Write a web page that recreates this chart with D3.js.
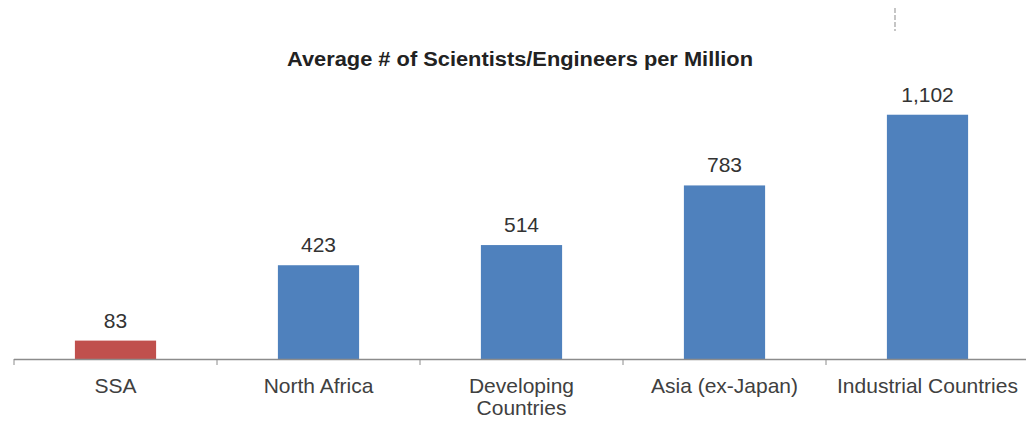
<!DOCTYPE html>
<html lang="en">
<head>
    <meta charset="UTF-8">
    <title>Average # of Scientists/Engineers per Million</title>
    <script src="https://d3js.org/d3.v7.min.js"></script>
    <style>
        html, body {
            margin: 0;
            padding: 0;
            background-color: #ffffff;
            font-family: 'Liberation Sans', Arial, sans-serif;
        }
        #chart {
            width: 1026px;
            height: 423px;
        }
    </style>
</head>
<body>
    <div id="chart"></div>

    <script>
        // data
        const categories = ['SSA', 'North Africa', 'Developing\nCountries', 'Asia (ex-Japan)', 'Industrial Countries'];
        const values = [83, 423, 514, 783, 1102];
        const barColors = ['#C0504D', '#4F81BD', '#4F81BD', '#4F81BD', '#4F81BD'];
        const chartTitle = 'Average # of Scientists/Engineers per Million';

        const width = 1026, height = 423;
        const svg = d3.select('#chart').append('svg')
            .attr('width', width).attr('height', height);

        const x = d3.scaleBand().domain(categories).range([14, 1029])
            .paddingInner(0.6).paddingOuter(0.3);
        const y = d3.scaleLinear().domain([0, 1200]).range([359, 93]);

        // title
        svg.append('text')
            .attr('x', 520).attr('y', 66)
            .attr('text-anchor', 'middle')
            .attr('textLength', 466).attr('lengthAdjust', 'spacingAndGlyphs')
            .style('font-size', '20px').style('font-weight', 'bold')
            .style('fill', '#222')
            .text(chartTitle);

        // small dashed mark top right
        svg.append('line')
            .attr('x1', 895).attr('x2', 895).attr('y1', 8).attr('y2', 31)
            .attr('stroke', '#a0a0a0').attr('stroke-width', 1.2)
            .attr('stroke-dasharray', '5,2');

        // bars
        svg.selectAll('.bar').data(categories).enter().append('rect')
            .attr('class', 'bar')
            .attr('x', d => x(d))
            .attr('width', x.bandwidth())
            .attr('y', (d, i) => y(values[i]))
            .attr('height', (d, i) => y(0) - y(values[i]))
            .attr('fill', (d, i) => barColors[i]);

        // value labels
        svg.selectAll('.val').data(categories).enter().append('text')
            .attr('class', 'val')
            .attr('x', d => x(d) + x.bandwidth() / 2)
            .attr('y', (d, i) => y(values[i]) - 13)
            .attr('text-anchor', 'middle')
            .style('font-size', '21px').style('fill', '#333')
            .text((d, i) => d3.format(',')(values[i]));

        // x axis
        const step = x.step();
        const axis = svg.append('g');
        axis.append('line')
            .attr('x1', 14).attr('x2', width).attr('y1', y(0) + 0.5).attr('y2', y(0) + 0.5)
            .attr('stroke', '#8c8c8c').attr('stroke-width', 1.5);
        axis.selectAll('.tick').data(d3.range(categories.length + 1)).enter().append('line')
            .attr('x1', i => 14 + i * step).attr('x2', i => 14 + i * step)
            .attr('y1', y(0)).attr('y2', y(0) + 6)
            .attr('stroke', '#8c8c8c').attr('stroke-width', 1);

        const labels = axis.selectAll('.cat').data(categories).enter().append('text')
            .attr('class', 'cat')
            .attr('x', d => x(d) + x.bandwidth() / 2)
            .attr('y', 393)
            .attr('text-anchor', 'middle')
            .style('font-size', '21px').style('fill', '#404040');
        labels.each(function(d) {
            const lines = d.split('\n');
            const t = d3.select(this);
            lines.forEach((ln, k) => {
                t.append('tspan')
                    .attr('x', x(d) + x.bandwidth() / 2)
                    .attr('dy', k === 0 ? 0 : 22)
                    .text(ln);
            });
        });
    </script>
</body>
</html>
